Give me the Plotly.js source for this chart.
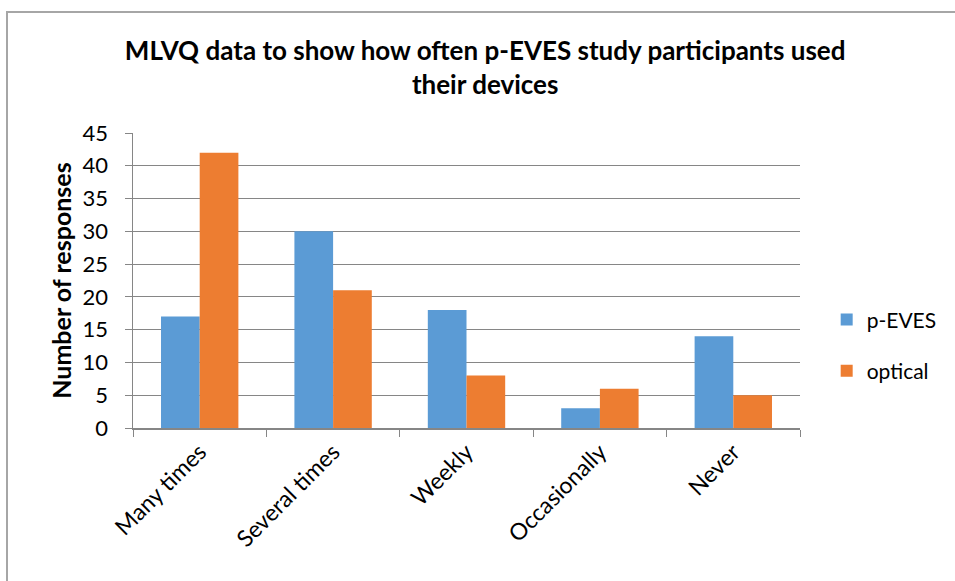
<!DOCTYPE html>
<html>
<head>
<meta charset="utf-8">
<script src="https://cdn.plot.ly/plotly-3.0.1.min.js"></script>
<style>
html,body{margin:0;padding:0;background:#fff;}
#wrap{position:relative;width:955px;height:581px;overflow:hidden;}
#chart{width:955px;height:581px;}
#frame{position:absolute;left:6px;top:11px;width:1000px;height:1000px;border-left:2px solid #a6a6a6;border-top:2px solid #a6a6a6;pointer-events:none;}
</style>
</head>
<body>
<div id="wrap"><div id="chart"></div><div id="frame"></div></div>
<script>
const categories = ["Many times", "Several times", "Weekly", "Occasionally", "Never"];
const seriesNames = ["p-EVES", "optical"];
const pEVES = [17, 30, 18, 3, 14];
const optical = [42, 21, 8, 6, 5];
const yTicks = [0, 5, 10, 15, 20, 25, 30, 35, 40, 45];

const FONT = "Lato, 'Open Sans', sans-serif";
const traces = [
  {type: "bar", name: seriesNames[0], x: categories, y: pEVES,
   marker: {color: "#5B9BD5"}, legendgroup: "a"},
  {type: "bar", name: seriesNames[1], x: categories, y: optical,
   marker: {color: "#ED7D31"}, legendgroup: "b"}
];

const layout = {
  width: 955, height: 581,
  margin: {l: 133, r: 155, t: 133, b: 153},
  paper_bgcolor: "rgba(0,0,0,0)", plot_bgcolor: "#fff",
  barmode: "group", bargap: 0.42, bargroupgap: 0,
  font: {family: FONT, color: "#000"},
  title: {
    text: "<b>MLVQ data to show how often p-EVES study participants used<br>their devices</b>",
    font: {family: FONT, size: 26, color: "#000"},
    x: 0.528, xref: "paper", xanchor: "center",
    y: 1 - 60/581, yref: "container", yanchor: "middle"
  },
  xaxis: {
    type: "category", tickangle: -45,
    tickfont: {family: FONT, size: 23, color: "#000"},
    showline: true, linecolor: "#868686", linewidth: 1.5,
    showgrid: false, ticks: "outside", ticklen: 7, tickcolor: "#868686",
    tickson: "boundaries", fixedrange: true
  },
  yaxis: {
    range: [0, 45], tickvals: yTicks,
    tickfont: {family: FONT, size: 22, color: "#000"},
    ticklabelstandoff: 12,
    showline: true, linecolor: "#868686", linewidth: 1.5,
    showgrid: true, gridcolor: "#868686", gridwidth: 1.2,
    ticks: "outside", ticklen: 7, tickcolor: "#868686",
    zeroline: false, fixedrange: true,
    title: {text: "<b>Number of responses</b>", font: {family: FONT, size: 25, color: "#000"}, standoff: 4}
  },
  legend: {
    x: 1.04, xanchor: "left", xref: "paper", y: 0.28, yanchor: "middle",
    font: {family: FONT, size: 21, color: "#000"},
    tracegroupgap: 21, traceorder: "grouped", itemwidth: 30
  },
  showlegend: true
};

Plotly.newPlot("chart", traces, layout, {staticPlot: true, displayModeBar: false});
</script>
</body>
</html>
